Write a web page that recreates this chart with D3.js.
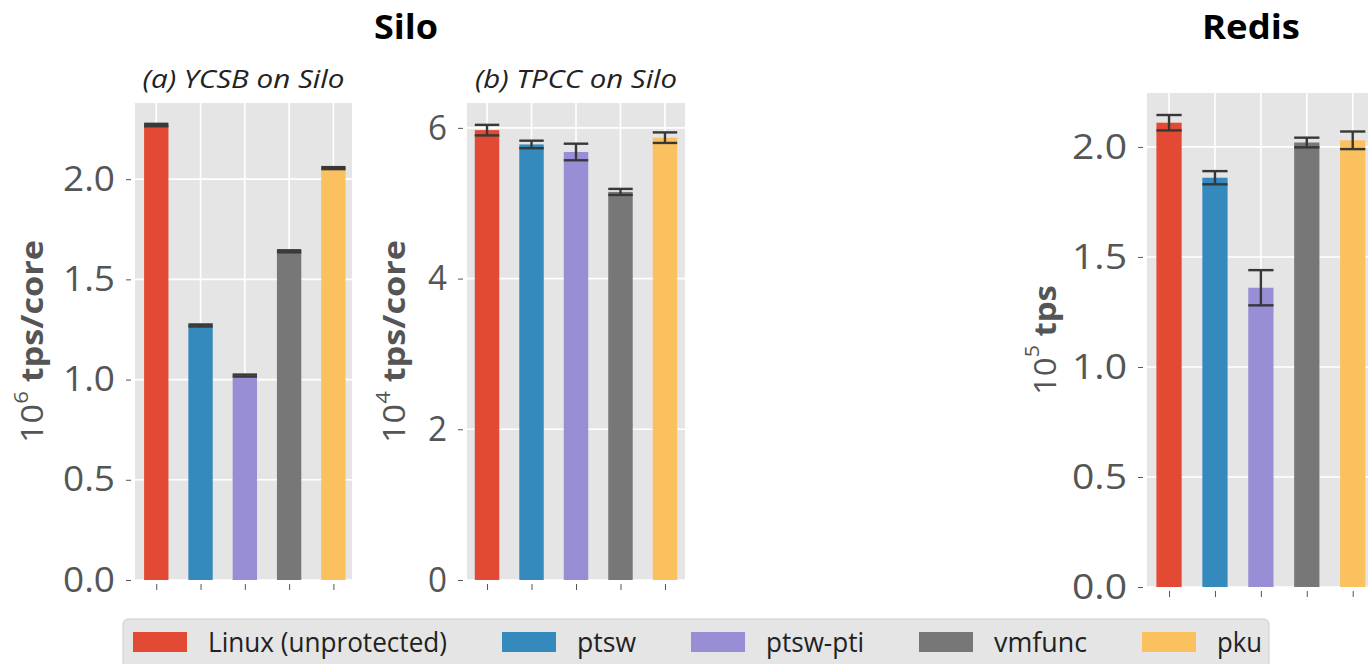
<!DOCTYPE html>
<html><head><meta charset="utf-8">
<script src="https://cdn.jsdelivr.net/npm/d3@7"></script>
<style>body{margin:0;background:#fff;} svg{display:block}</style>
</head><body><svg id="c" width="1368" height="664"></svg>
<script>
// ---- data ----
const categories = ["Linux (unprotected)", "ptsw", "ptsw-pti", "vmfunc", "pku"];
const ycsbValues = [2.27, 1.27, 1.02, 1.64, 2.055];
const ycsbErrors = [0.006, 0.005, 0.005, 0.005, 0.005];
const tpccValues = [5.97, 5.78, 5.68, 5.15, 5.87];
const tpccErrors = [0.07, 0.05, 0.11, 0.04, 0.07];
const redisValues = [2.11, 1.86, 1.36, 2.02, 2.03];
const redisErrors = [0.035, 0.03, 0.08, 0.022, 0.04];
const ycsbTicks = [0, 0.5, 1.0, 1.5, 2.0];
const tpccTicks = [0, 2, 4, 6];
const redisTicks = [0, 0.5, 1.0, 1.5, 2.0];

// ---- style ----
const colors = ["#E24A33", "#348ABD", "#988ED5", "#777777", "#FBC15E"];
const svg = d3.select("#c");
const SANS = "'Open Sans','Noto Sans',sans-serif";

const panels = [
  {left:135, right:352, top:103, bottom:580, ymax:2.38, xdom:[-0.48,4.42],
   values:ycsbValues, errors:ycsbErrors, ticks:ycsbTicks, fmt:d3.format(".1f"), tickW:52,
   title:"(a) YCSB on Silo", exp:"6", unit:"tps/core", labelX:31, labelW:203},
  {left:467, right:685, top:103, bottom:580, ymax:6.33, xdom:[-0.45,4.45],
   values:tpccValues, errors:tpccErrors, ticks:tpccTicks, fmt:d3.format("d"), tickW:19,
   title:"(b) TPCC on Silo", exp:"4", unit:"tps/core", labelX:393, labelW:203},
  {left:1147, right:1372, top:93, bottom:587, ymax:2.245, xdom:[-0.48,4.42],
   values:redisValues, errors:redisErrors, ticks:redisTicks, fmt:d3.format(".1f"), tickW:55,
   title:null, exp:"5", unit:"tps", labelX:1043, labelW:110, xtickOff:4}
];

panels.forEach(p => {
  const x = d3.scaleLinear().domain(p.xdom).range([p.left, p.right]);
  const y = d3.scaleLinear().domain([0, p.ymax]).range([p.bottom, p.top]);
  const g = svg.append("g");
  const bw = x(0.55) - x(0);
  g.append("rect").attr("x", p.left).attr("y", p.top)
    .attr("width", p.right - p.left).attr("height", p.bottom - p.top).attr("fill", "#E5E5E5");
  // grid
  g.selectAll(".hg").data(p.ticks).join("line")
    .attr("x1", p.left).attr("x2", p.right).attr("y1", d => y(d)).attr("y2", d => y(d))
    .attr("stroke", "#fff").attr("stroke-width", 1.6);
  g.selectAll(".vg").data(d3.range(categories.length)).join("line")
    .attr("x1", d => x(d)).attr("x2", d => x(d)).attr("y1", p.top).attr("y2", p.bottom)
    .attr("stroke", "#fff").attr("stroke-width", 1.6);
  // bars
  g.selectAll(".bar").data(p.values).join("rect")
    .attr("x", (d, i) => x(i) - bw / 2).attr("width", bw)
    .attr("y", d => y(d)).attr("height", d => y(0) - y(d))
    .attr("fill", (d, i) => colors[i]);
  // error bars
  const eg = g.selectAll(".err").data(p.values).join("g").attr("stroke", "#383838").attr("stroke-width", 2.4);
  eg.append("line").attr("x1", (d, i) => x(i)).attr("x2", (d, i) => x(i))
    .attr("y1", (d, i) => y(d - p.errors[i])).attr("y2", (d, i) => y(d + p.errors[i]));
  eg.append("line").attr("x1", (d, i) => x(i) - bw / 2).attr("x2", (d, i) => x(i) + bw / 2)
    .attr("y1", (d, i) => y(d + p.errors[i])).attr("y2", (d, i) => y(d + p.errors[i]));
  eg.append("line").attr("x1", (d, i) => x(i) - bw / 2).attr("x2", (d, i) => x(i) + bw / 2)
    .attr("y1", (d, i) => y(d - p.errors[i])).attr("y2", (d, i) => y(d - p.errors[i]));
  // y axis
  const ya = g.append("g").attr("transform", `translate(${p.left - 4},0)`)
    .call(d3.axisLeft(y).tickValues(p.ticks).tickFormat(p.fmt).tickSize(5).tickPadding(11));
  ya.select(".domain").remove();
  ya.selectAll(".tick line").attr("stroke", "#555");
  ya.selectAll(".tick text").attr("fill", "#555").attr("font-family", SANS)
    .attr("font-size", 35).attr("font-weight", 400)
    .attr("textLength", p.tickW).attr("lengthAdjust", "spacingAndGlyphs");
  // x axis
  const xa = g.append("g").attr("transform", `translate(0,${p.bottom + (p.xtickOff || 4)})`)
    .call(d3.axisBottom(x).tickValues(d3.range(categories.length)).tickFormat("").tickSize(6));
  xa.select(".domain").remove();
  xa.selectAll(".tick line").attr("stroke", "#555");
  // subtitle
  if (p.title) {
    g.append("text").attr("x", (p.left + p.right) / 2).attr("y", 88)
      .attr("text-anchor", "middle").attr("font-family", SANS).attr("font-style", "italic")
      .attr("font-size", 25).attr("fill", "#222").text(p.title)
      .attr("textLength", 202).attr("lengthAdjust", "spacingAndGlyphs");
  }
  // y label
  const cy = (p.top + p.bottom) / 2;
  const lab = g.append("text").attr("font-family", SANS).attr("font-size", 31).attr("fill", "#555")
    .attr("text-anchor", "middle").attr("dominant-baseline", "central");
  lab.append("tspan").text("10");
  lab.append("tspan").attr("font-size", 20).attr("dy", -12).text(p.exp);
  lab.append("tspan").attr("dy", 12).text("\u00a0");
  lab.append("tspan").attr("font-weight", 700).text(p.unit);
  const w = lab.node().getComputedTextLength();
  lab.attr("transform", `translate(${p.labelX},${cy}) rotate(-90) scale(${p.labelW / w},1)`);
});

// group titles
svg.append("text").attr("x", 406).attr("y", 39).attr("text-anchor", "middle")
  .attr("font-family", SANS).attr("font-weight", 700).attr("font-size", 34).attr("fill", "#000")
  .text("Silo").attr("textLength", 64).attr("lengthAdjust", "spacingAndGlyphs");
svg.append("text").attr("x", 1251).attr("y", 39).attr("text-anchor", "middle")
  .attr("font-family", SANS).attr("font-weight", 700).attr("font-size", 34).attr("fill", "#000")
  .text("Redis").attr("textLength", 98).attr("lengthAdjust", "spacingAndGlyphs");

// legend
const legendTextW = [239, 59, 98, 93, 45];
const lg = svg.append("g");
lg.append("rect").attr("x", 123).attr("y", 619).attr("width", 1146).attr("height", 60)
  .attr("rx", 5).attr("fill", "#E5E5E5").attr("stroke", "#cfcfcf").attr("stroke-width", 1);
let lx = 133;
categories.forEach((c, i) => {
  lg.append("rect").attr("x", lx).attr("y", 632).attr("width", 54).attr("height", 20).attr("fill", colors[i]);
  lg.append("text").attr("x", lx + 75).attr("y", 652).attr("font-family", SANS).attr("font-size", 28)
    .attr("fill", "#222").text(c).attr("textLength", legendTextW[i]).attr("lengthAdjust", "spacingAndGlyphs");
  lx += 75 + legendTextW[i] + 55;
});
</script></body></html>
